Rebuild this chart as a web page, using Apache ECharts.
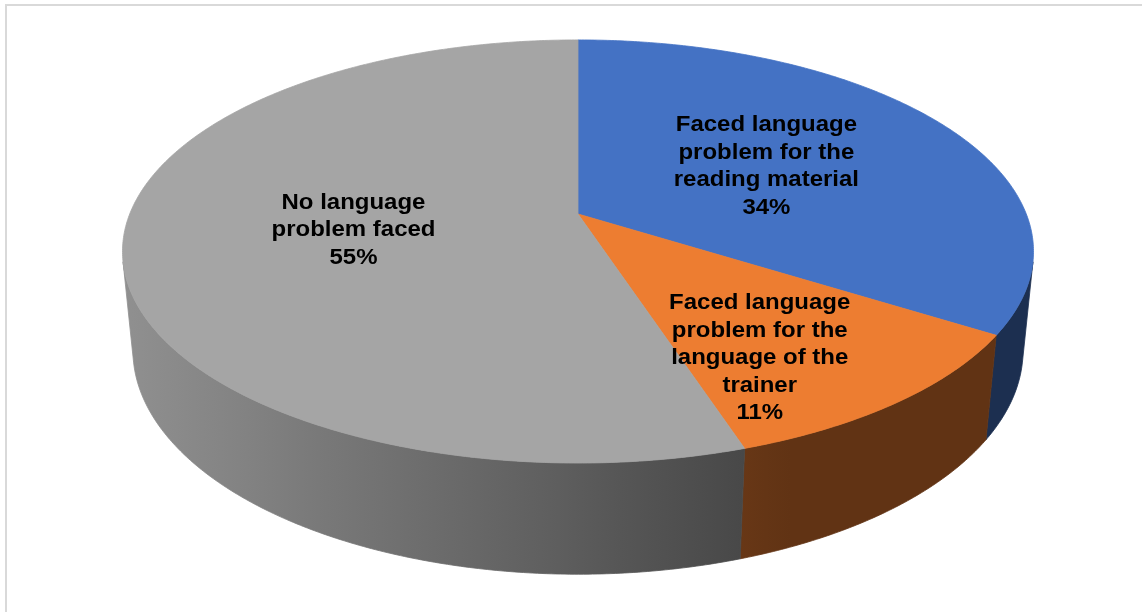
<!DOCTYPE html>
<html>
<head>
<meta charset="utf-8">
<script src="https://cdn.jsdelivr.net/npm/echarts@6/dist/echarts.min.js"></script>
<style>
  html, body { margin: 0; padding: 0; background: #ffffff; }
  #chart { width: 1142px; height: 612px; }
</style>
</head>
<body>
<div id="chart"></div>
<script>
// Slice names (with the line breaks used in the labels), shares and top colours
const categories = [
  'Faced language\nproblem for the\nreading material',
  'Faced language\nproblem for the\nlanguage of the\ntrainer',
  'No language\nproblem faced'
];
const values = [34, 11, 55];
const topColors = ['#4472C4', '#ED7D31', '#A5A5A5'];

// Perspective view of the tilted disc (radius 1 in model units)
const view = {
  cx: 578, cy: 214,          // screen position of the disc centre
  scale: 448.3,              // pixels per radius unit
  dist: 5.02,                // camera distance in radius units
  tilt: 27.2 * Math.PI / 180,
  thickness: 0.25            // disc height in radius units
};
const labelRadius = 0.5;
const labelShift = [[0, 0], [34, 57], [0, 0]];

const total = values.reduce((a, b) => a + b, 0);

function project(theta, r, level) {
  const s = Math.sin(view.tilt), c = Math.cos(view.tilt);
  const px = r * Math.cos(theta);
  const pz = -r * Math.sin(theta);
  const py = -level * view.thickness;
  const w = view.dist - (py * s + pz * c);
  const k = view.scale * view.dist / w;
  const up = py * c - pz * s;
  return [view.cx + px * k, view.cy - up * k];
}

function shade(x) {
  return Math.max(0.41, 0.867 - (x - 130) * 0.0007);
}

function hexRgb(hex) {
  const n = parseInt(hex.slice(1), 16);
  return [(n >> 16) & 255, (n >> 8) & 255, n & 255];
}

function wallGradient(base, x0, x1) {
  const rgb = hexRgb(base);
  const stops = [];
  const n = 10;
  for (let j = 0; j <= n; j++) {
    const x = x0 + (x1 - x0) * j / n;
    const f = shade(x);
    stops.push({
      offset: j / n,
      color: 'rgb(' + rgb.map(v => Math.round(v * f)).join(',') + ')'
    });
  }
  return { type: 'linear', x: x0, y: 0, x2: x1, y2: 0, global: true, colorStops: stops };
}

function sampleArc(a, b, r, level) {
  const pts = [];
  const steps = Math.max(2, Math.ceil(Math.abs(b - a) / (Math.PI / 360)));
  for (let j = 0; j <= steps; j++) {
    pts.push(project(a + (b - a) * j / steps, r, level));
  }
  return pts;
}

function renderSlice(params, api) {
  const i = params.dataIndex;
  let before = 0;
  for (let j = 0; j < i; j++) before += values[j];
  const v = api.value(0);
  const a0 = Math.PI / 2 - 2 * Math.PI * before / total;
  const a1 = Math.PI / 2 - 2 * Math.PI * (before + v) / total;
  const children = [];

  // outer wall: only the part turned towards the viewer
  const q = Math.asin(1 / (view.dist * Math.cos(view.tilt)));
  for (let k = -1; k <= 1; k++) {
    const fLo = -Math.PI + q + 2 * Math.PI * k;
    const fHi = -q + 2 * Math.PI * k;
    const lo = Math.max(a1, fLo), hi = Math.min(a0, fHi);
    if (hi > lo) {
      const topArc = sampleArc(hi, lo, 1, 0);
      const botArc = sampleArc(lo, hi, 1, 1);
      const poly = topArc.concat(botArc);
      const xs = poly.map(p => p[0]);
      const grad = wallGradient(topColors[i], Math.min(...xs), Math.max(...xs));
      children.push({
        type: 'polygon', z2: 1,
        shape: { points: poly },
        style: { fill: grad, stroke: grad, lineWidth: 0.8 }
      });
    }
  }

  // top face
  const face = [project(0, 0, 0)].concat(sampleArc(a0, a1, 1, 0));
  children.push({
    type: 'polygon', z2: 10,
    shape: { points: face },
    style: { fill: topColors[i], stroke: topColors[i], lineWidth: 0.8 }
  });

  // label on the top face
  const mid = (a0 + a1) / 2;
  const lp = project(mid, labelRadius, 0);
  const pct = Math.round(v / total * 100) + '%';
  children.push({
    type: 'text', z2: 20,
    x: lp[0] + labelShift[i][0], y: lp[1] + labelShift[i][1],
    scaleX: 1.09,
    style: {
      text: categories[i] + '\n' + pct,
      fill: '#000000',
      font: 'bold 22px "Liberation Sans", Arial, sans-serif',
      align: 'center', verticalAlign: 'middle',
      lineHeight: 27.5
    }
  });

  return { type: 'group', children: children };
}

const chart = echarts.init(document.getElementById('chart'), null, { renderer: 'canvas' });
chart.setOption({
  animation: false,
  backgroundColor: '#ffffff',
  graphic: [{
    type: 'rect', z: 0,
    shape: { x: 6, y: 5, width: 1160, height: 640 },
    style: { fill: 'none', stroke: '#d9d9d9', lineWidth: 2 }
  }],
  series: [{
    type: 'custom',
    coordinateSystem: 'none',
    renderItem: renderSlice,
    data: values.map((v, i) => [v, i])
  }]
});
</script>
</body>
</html>
